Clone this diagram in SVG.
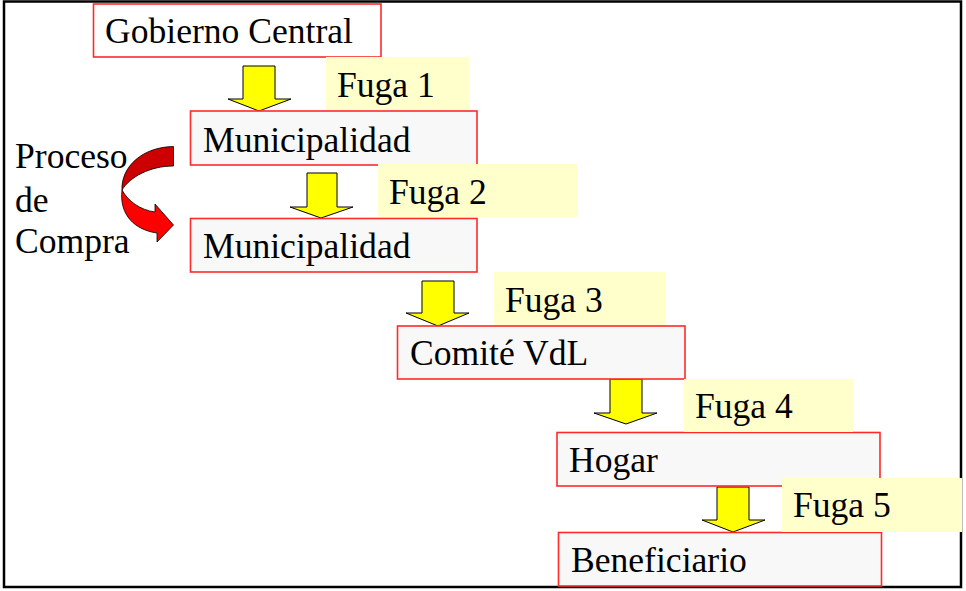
<svg xmlns="http://www.w3.org/2000/svg" width="966" height="591" viewBox="0 0 966 591">
<style>
.t{font-family:"Liberation Serif","Times New Roman",serif;font-size:35.6px;fill:#000}
.node{fill:#f8f8f8;stroke:#ff2a2a;stroke-width:1.6}
.fuga{fill:#ffffcc;stroke:none}
.arr{fill:#ffff00;stroke:#000;stroke-width:1}
</style>
<rect x="0" y="0" width="966" height="591" fill="#fff"/>
<rect x="4" y="1.5" width="957" height="585.5" fill="none" stroke="#000" stroke-width="2.5"/>
<g id="connectors">
<path class="arr" d="M243,66 L275,66 L275,99 L291,99 L259,111 L228,99 L243,99 Z"/>
<path class="arr" d="M307,173 L337,173 L337,207 L353,207 L321,218 L290,207 L307,207 Z"/>
<path class="arr" d="M422,281 L454,281 L454,313 L469,313 L438,326 L406,313 L422,313 Z"/>
<path class="arr" d="M610,379 L642,379 L642,413 L657,413 L626,424 L594,413 L610,413 Z"/>
<path class="arr" d="M717,487 L749,487 L749,520 L765,520 L733,532 L702,520 L717,520 Z"/>
<g id="proceso-arrow" stroke="#000" stroke-width="0.8">
<path fill="#cc0000" d="M173.5,146.5 C142,147 121,167 122,190 C130,177 150,166 173.5,166 Z"/>
<path fill="#ff0000" d="M122,190 C128,201 140,210 155,212 L155,204 L173.5,225 L157,242 L157,233 C135,230 119,215 122,190 Z"/>
</g>
</g>
<g id="n-gobierno"><rect class="node" x="93.5" y="4" width="287.5" height="53" style="fill:#fff"/><text class="t" x="105" y="43">Gobierno Central</text></g>
<g id="n-muni1"><rect class="node" x="190.5" y="111" width="286.5" height="54"/><text class="t" x="203" y="152">Municipalidad</text></g>
<g id="n-muni2"><rect class="node" x="190.5" y="218.5" width="286.5" height="53.5"/><text class="t" x="203" y="258">Municipalidad</text></g>
<g id="n-comite"><rect class="node" x="397.5" y="326" width="287.5" height="53"/><text class="t" x="410" y="365">Comité VdL</text></g>
<g id="n-hogar"><rect class="node" x="557" y="432.5" width="323" height="53.5"/><text class="t" x="569" y="472">Hogar</text></g>
<g id="n-benef"><rect class="node" x="558.5" y="532.5" width="323" height="53.5"/><text class="t" x="571" y="572">Beneficiario</text></g>
<g id="f1"><rect class="fuga" x="326" y="57" width="143" height="53"/><text class="t" x="337" y="97">Fuga 1</text></g>
<g id="f2"><rect class="fuga" x="378" y="164" width="200" height="53"/><text class="t" x="389" y="204">Fuga 2</text></g>
<g id="f3"><rect class="fuga" x="494" y="272" width="172" height="53"/><text class="t" x="505" y="312">Fuga 3</text></g>
<g id="f4"><rect class="fuga" x="684" y="379" width="169" height="53"/><text class="t" x="695" y="418">Fuga 4</text></g>
<g id="f5"><rect class="fuga" x="782" y="478" width="180" height="54"/><text class="t" x="793" y="517">Fuga 5</text></g>
<g id="n-proceso"><text class="t"><tspan x="15" y="168">Proceso</tspan><tspan x="15" y="212">de</tspan><tspan x="15" y="253">Compra</tspan></text></g>
</svg>
